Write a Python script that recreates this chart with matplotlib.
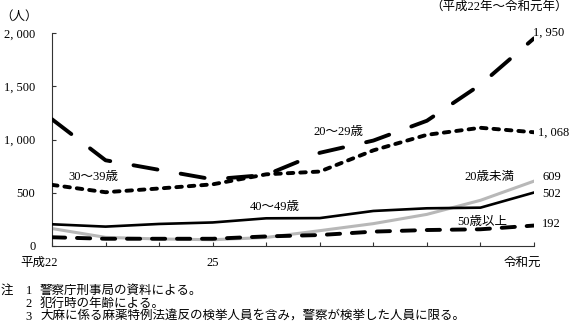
import matplotlib.pyplot as plt
from matplotlib.transforms import blended_transform_factory

plt.rcParams['font.family'] = ['Liberation Serif', 'Noto Sans CJK JP']
plt.rcParams['font.size'] = 9
plt.rcParams['lines.scale_dashes'] = False

# 平成22年～令和元年
years = list(range(10))
year_labels = ['平成22', '23', '24', '25', '26', '27', '28', '29', '30', '令和元']
shown_years = {0: -0.24, 3: 0.0, 9: -0.22}   # index -> label shift (in years)

under20 = [164, 81, 66, 59, 80, 144, 210, 297, 429, 609]
age20s = [1190, 805, 715, 626, 668, 875, 990, 1176, 1515, 1950]
age30s = [574, 505, 540, 579, 673, 699, 898, 1044, 1110, 1068]
age40s = [204, 182, 207, 221, 260, 262, 329, 354, 360, 502]
over50 = [82, 68, 68, 68, 90, 103, 135, 150, 157, 192]

yticks = [0, 500, 1000, 1500, 2000]
ytick_labels = ['0', '500', '1, 000', '1, 500', '2, 000']

W, H = 570, 323
fig = plt.figure(figsize=(W / 100, H / 100), dpi=100)
ax = fig.add_axes([52 / W, 1 - 246 / H, (534 - 52) / W, (246 - 33) / H])

ax.plot(years, under20, color='#b8b8b8', lw=2.2, zorder=2)
ax.plot(years, age40s, color='black', lw=1.9, zorder=3)
ax.plot(years, over50, color='black', lw=2.8, dashes=(9.5, 8.5),
        dash_capstyle='round', zorder=4)
ax.plot(years, age30s, color='black', lw=2.8, dashes=(4.0, 5.0),
        dash_capstyle='round', zorder=4)
ax.plot(years, age20s, color='black', lw=2.8, dashes=(17.5, 17.0),
        dash_capstyle='round', zorder=4)

ax.set_xlim(0, 9)
ax.set_ylim(0, 2000)
for side in ['top', 'right']:
    ax.spines[side].set_visible(False)
for side in ['left', 'bottom']:
    ax.spines[side].set_color('#333333')
    ax.spines[side].set_linewidth(0.8)

ax.set_yticks(yticks)
ax.set_yticklabels(ytick_labels)
ax.set_xticks(years)
ax.set_xticklabels([''] * len(years))
ax.tick_params(direction='in', length=3, width=0.8, color='#333333')
ax.tick_params(axis='y', pad=12)

xtr = blended_transform_factory(ax.transData, ax.transAxes)
for i, shift in shown_years.items():
    ax.text(i + shift, -0.08, year_labels[i], transform=xtr,
            ha='center', va='center')

# value labels at the right end of each series
end_labels = [
    (age20s, (-1, 4)),
    (age30s, (3, 0)),
    (under20, (6, 3)),
    (age40s, (6, -1)),
    (over50, (6, 1)),
]
for series, (dx, dy) in end_labels:
    ax.annotate(f'{series[-1]:,}'.replace(',', ', '), xy=(9, series[-1]),
                xytext=(dx, dy), textcoords='offset points',
                ha='left', va='center', annotation_clip=False)

ax.text(5.34, 1073, '20～29歳', ha='center', va='center')
ax.text(0.78, 651, '30～39歳', ha='center', va='center')
ax.text(4.15, 366, '40～49歳', ha='center', va='center')
ax.text(8.16, 648, '20歳未満', ha='center', va='center')
ax.text(8.03, 228, '50歳以上', ha='center', va='center')


def px(x, y):
    return x / W, 1 - y / H


fig.text(*px(19, 17), '（人）', ha='center', va='center')
fig.text(*px(568, 7), '（平成22年～令和元年）', ha='right', va='center')

notes = [
    ('1', '警察庁刑事局の資料による。'),
    ('2', '犯行時の年齢による。'),
    ('3', '大麻に係る麻薬特例法違反の検挙人員を含み，警察が検挙した人員に限る。'),
]
fig.text(*px(1, 291), '注', ha='left', va='center')
for k, (num, txt) in enumerate(notes):
    y = 291 + 13 * k
    fig.text(*px(29, y), num, ha='center', va='center')
    fig.text(*px(40, y), txt, ha='left', va='center')

fig.savefig('out.png', dpi=100)
